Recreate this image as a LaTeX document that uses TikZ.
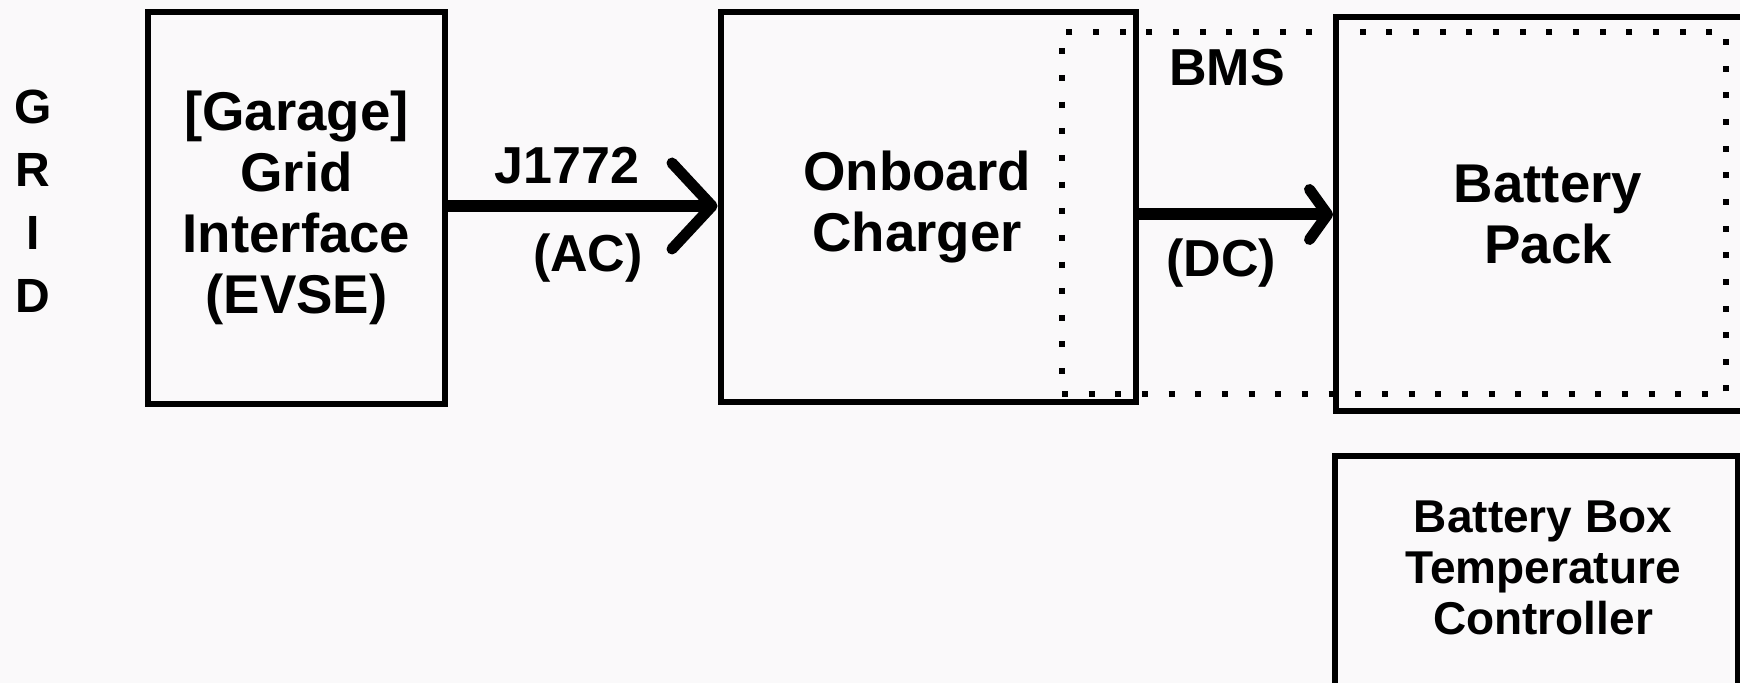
\documentclass[tikz,border=0pt]{standalone}
\usepackage{fontspec}
\setmainfont{Liberation Sans}
\usepackage{xcolor}
\usetikzlibrary{arrows.meta, positioning}
\definecolor{bgpaper}{RGB}{250,249,250}

\begin{document}
\begin{tikzpicture}[x=0.5pt, y=-0.5pt,
    block/.style={draw, line width=3pt, inner sep=0pt, align=center,
        font=\bfseries\fontsize{27.3}{30.5}\selectfont},
    lbl/.style={inner sep=0pt, font=\bfseries\fontsize{26}{30}\selectfont},
    flow/.style={line width=6pt},
    bigtip/.style={-{Straight Barb[length=20pt, width=43pt, line width=5.5pt, round]}},
    smalltip/.style={-{Straight Barb[length=9pt, width=25pt, line width=5.5pt, round]}}]
    % 背景
    \fill[bgpaper] (0,0) rectangle (1740,683);
    \useasboundingbox (0,0) rectangle (1740,683);

    % 左侧竖排文字
    \node[lbl, align=center, font=\bfseries\fontsize{24}{31.5}\selectfont] (grid) at (33,201) {G\\R\\I\\D};

    % 方框
    \node[block, minimum width=148.5pt, minimum height=196pt] (evse) at (296.5,208)
        {[Garage]\\Grid\\Interface\\(EVSE)};
    \node[block, minimum width=207.5pt, minimum height=195pt] (onboard) at (928,207.5)
        {Onboard\hspace*{11pt}\\Charger\hspace*{11pt}};
    \node[block, minimum width=212pt, minimum height=197pt] (battery) at (1548,214.5)
        {Battery\\Pack};
    \node[block, minimum width=201.5pt, minimum height=121.75pt] (tempbox) at (1536.5,578.25) {};
    \node[lbl, align=center, font=\bfseries\fontsize{23}{25.5}\selectfont] (templbl) at (1543,568)
        {Battery Box\\Temperature\\Controller};

    % BMS 虚线框
    \node[draw, line width=3pt, dash pattern=on 3pt off 10.33pt,
        minimum width=332pt, minimum height=181pt] (bms) at (1394,213) {};
    \node[lbl] (bmslbl) at (1227,68) {BMS};

    % 连接箭头
    \draw[flow, bigtip] (evse.east |- 0,206) -- (onboard.west |- 0,206);
    \draw[flow, smalltip] (onboard.east |- battery.west) -- (battery.west);

    % 箭头标注
    \node[lbl] (j1772) at (567,166) {J1772};
    \node[lbl] (ac) at (588,258) {(AC)};
    \node[lbl] (dc) at (1221,263) {(DC)};
\end{tikzpicture}
\end{document}
